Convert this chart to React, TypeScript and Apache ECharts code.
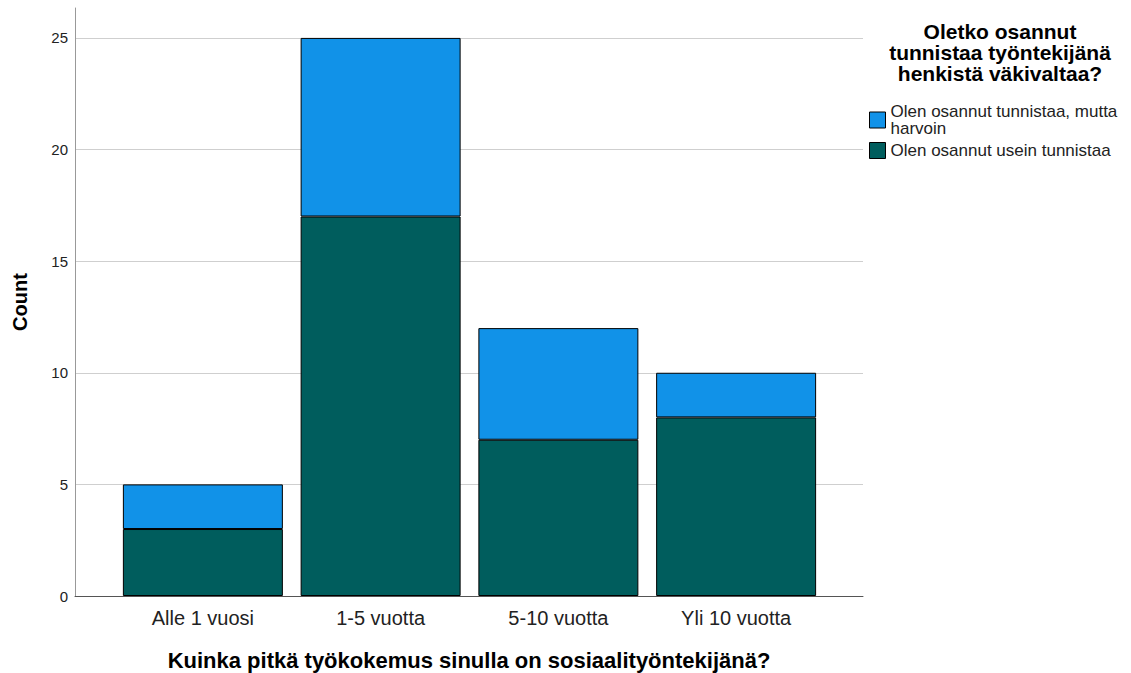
import React, { useEffect, useRef } from "react";
import * as echarts from "echarts";

const categories = ["Alle 1 vuosi", "1-5 vuotta", "5-10 vuotta", "Yli 10 vuotta"];
const seriesOften = [3, 17, 7, 8];
const seriesRarely = [2, 8, 5, 2];
const nameOften = "Olen osannut usein tunnistaa";
const nameRarely = "Olen osannut tunnistaa, mutta harvoin";
const legendTitle = ["Oletko osannut", "tunnistaa työntekijänä", "henkistä väkivaltaa?"];
const xTitle = "Kuinka pitkä työkokemus sinulla on sosiaalityöntekijänä?";
const yTitle = "Count";

const FONT = "'Liberation Sans', Arial, sans-serif";
const Y_MAX = 26.34;

export default function App() {
  const ref = useRef<HTMLDivElement>(null);
  useEffect(() => {
    if (!ref.current) return;
    const chart = echarts.init(ref.current, undefined, { renderer: "svg" });
    chart.setOption({
      animation: false,
      backgroundColor: "#ffffff",
      textStyle: { fontFamily: FONT },
      grid: [
        { left: 75, right: 268, top: 8, bottom: 77 },
        { left: 114, right: 306, top: 8, bottom: 77 },
      ],
      xAxis: [
        {
          type: "value",
          gridIndex: 0,
          min: 0,
          max: 1,
          axisLabel: { show: false },
          axisTick: { show: false },
          splitLine: { show: false },
          axisLine: { show: true, onZero: false, lineStyle: { color: "#555", width: 1 } },
        },
        {
          type: "category",
          gridIndex: 1,
          data: categories,
          axisLine: { show: false },
          axisTick: { show: false },
          axisLabel: { fontSize: 20, color: "#222", margin: 12, fontFamily: FONT },
        },
      ],
      yAxis: [
        {
          type: "value",
          gridIndex: 0,
          min: 0,
          max: Y_MAX,
          interval: 5,
          axisLine: { show: true, lineStyle: { color: "#999", width: 1 } },
          axisTick: { show: false },
          splitLine: { show: true, showMaxLine: false, lineStyle: { color: "#cfcfcf", width: 1 } },
          axisLabel: {
            fontSize: 15,
            color: "#222",
            margin: 7,
            fontFamily: FONT,
            showMaxLabel: false,
          },
          name: yTitle,
          nameLocation: "middle",
          nameGap: 45,
          nameRotate: 90,
          nameTextStyle: { fontSize: 20, fontWeight: "bold", color: "#000", fontFamily: FONT },
        },
        {
          type: "value",
          gridIndex: 1,
          min: 0,
          max: Y_MAX,
          interval: 5,
          show: false,
          splitLine: { show: false },
        },
      ],
      legend: {
        orient: "vertical",
        left: 864,
        top: 98,
        itemWidth: 16,
        itemHeight: 16,
        itemGap: 5,
        icon: "rect",
        data: [nameRarely, nameOften],
        formatter: (n: string) => (n === nameRarely ? "Olen osannut tunnistaa, mutta\nharvoin" : n),
        textStyle: { fontSize: 17, lineHeight: 17, color: "#222", fontFamily: FONT },
        itemStyle: { borderColor: "#000", borderWidth: 1 },
      },
      graphic: [
        ...legendTitle.map((t, i) => ({
          type: "text",
          x: 1000,
          y: 31 + i * 21,
          style: {
            text: t,
            font: `bold 21px ${FONT}`,
            fill: "#000",
            align: "center",
            verticalAlign: "middle",
          },
        })),
        {
          type: "text",
          x: 469,
          y: 660,
          style: {
            text: xTitle,
            font: `bold 22px ${FONT}`,
            fill: "#000",
            align: "center",
            verticalAlign: "middle",
          },
        },
      ],
      series: [
        {
          name: nameOften,
          type: "bar",
          stack: "total",
          xAxisIndex: 1,
          yAxisIndex: 1,
          barCategoryGap: "10%",
          data: seriesOften,
          itemStyle: { color: "#005d5d", borderColor: "#000", borderWidth: 1 },
        },
        {
          name: nameRarely,
          type: "bar",
          stack: "total",
          xAxisIndex: 1,
          yAxisIndex: 1,
          barCategoryGap: "10%",
          data: seriesRarely,
          itemStyle: { color: "#1192e8", borderColor: "#000", borderWidth: 1 },
        },
      ],
    });
    return () => chart.dispose();
  }, []);
  return (
    <div
      ref={ref}
      style={{ width: 1131, height: 673, position: "absolute", left: 0, top: 0 }}
    />
  );
}
